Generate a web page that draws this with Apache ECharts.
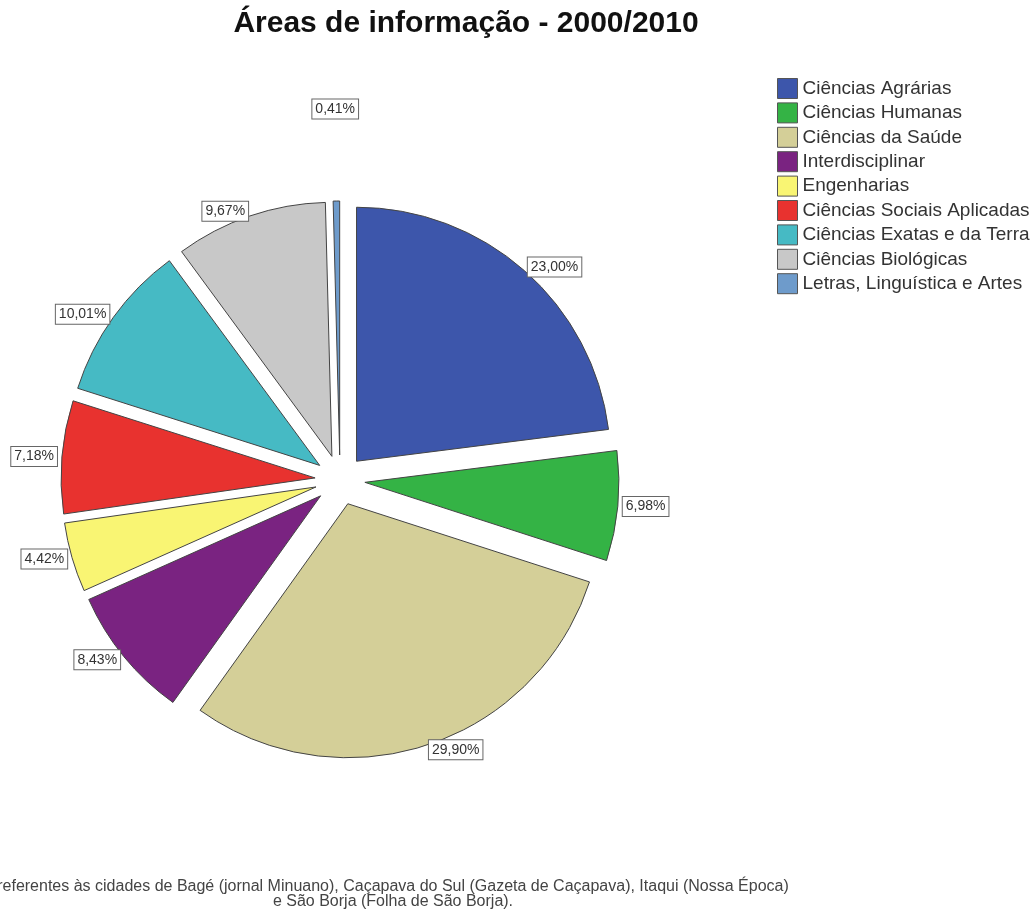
<!DOCTYPE html>
<html>
<head>
<meta charset="utf-8">
<script src="https://cdn.jsdelivr.net/npm/echarts@6/dist/echarts.min.js"></script>
<style>
  html, body { margin: 0; padding: 0; background: #fff; }
  #chart { width: 1035px; height: 915px; }
</style>
</head>
<body>
<div id="chart"></div>
<script>
// áreas, na ordem do gráfico (sentido horário a partir das 12h)
const categories = [
  'Ciências Agrárias',
  'Ciências Humanas',
  'Ciências da Saúde',
  'Interdisciplinar',
  'Engenharias',
  'Ciências Sociais Aplicadas',
  'Ciências Exatas e da Terra',
  'Ciências Biológicas',
  'Letras, Linguística e Artes'
];
const percentages = [23.00, 6.98, 29.90, 8.43, 4.42, 7.18, 10.01, 9.67, 0.41];
const colors = ['#3d56ab', '#34b345', '#d4cf98', '#7a2381', '#f9f573', '#e8322f', '#46bac4', '#c8c8c8', '#6e9bcb'];

const titleText = 'Áreas de informação - 2000/2010';
const noteText = 'referentes às cidades de Bagé (jornal Minuano), Caçapava do Sul (Gazeta de Caçapava), Itaqui (Nossa Época)\ne São Borja (Folha de São Borja).';

const font = '"Liberation Sans", Arial, sans-serif';

const pieData = categories.map((name, i) => {
  const item = {
    name: name,
    value: percentages[i],
    selected: true,
    itemStyle: { color: colors[i] }
  };
  // a fatia pequena tem o rótulo bem acima
  if (i === 8) item.labelLine = { show: false, length: 92, length2: 0 };
  return item;
});

const chart = echarts.init(document.getElementById('chart'));

const option = {
  backgroundColor: '#fff',
  animation: false,
  title: [
    {
      text: titleText,
      left: 461,
      top: 4,
      textAlign: 'center',
      textStyle: { fontFamily: font, fontSize: 30, fontWeight: 'bold', color: '#111' }
    },
    {
      text: noteText,
      left: 388,
      top: 874,
      textAlign: 'center',
      textStyle: { fontFamily: font, fontSize: 16, fontWeight: 'normal', color: '#444', lineHeight: 15 }
    }
  ],
  legend: {
    orient: 'vertical',
    left: 777,
    top: 78,
    padding: 0,
    icon: 'rect',
    itemWidth: 20,
    itemHeight: 20,
    itemGap: 3.4,
    itemStyle: { borderColor: '#555', borderWidth: 1 },
    textStyle: { fontFamily: font, fontSize: 19, lineHeight: 20, color: '#333' },
    data: categories
  },
  series: [
    {
      type: 'pie',
      center: [340, 480],
      radius: 254,
      startAngle: 90,
      clockwise: true,
      selectedMode: 'multiple',
      selectedOffset: 25,
      avoidLabelOverlap: false,
      itemStyle: { borderColor: '#444', borderWidth: 1 },
      emphasis: { disabled: true },
      label: {
        show: true,
        position: 'outside',
        distanceToLabelLine: 0,
        formatter: (p) => p.value.toFixed(2).replace('.', ',') + '%',
        fontFamily: font,
        fontSize: 14,
        color: '#333',
        backgroundColor: '#fff',
        borderColor: '#666',
        borderWidth: 1,
        padding: [3, 3, 2, 3]
      },
      labelLine: { show: false, length: 5, length2: 0 },
      labelLayout: (p) => (p.dataIndex === 8 ? { align: 'center' } : {}),
      data: pieData
    }
  ]
};

chart.setOption(option);
</script>
</body>
</html>
